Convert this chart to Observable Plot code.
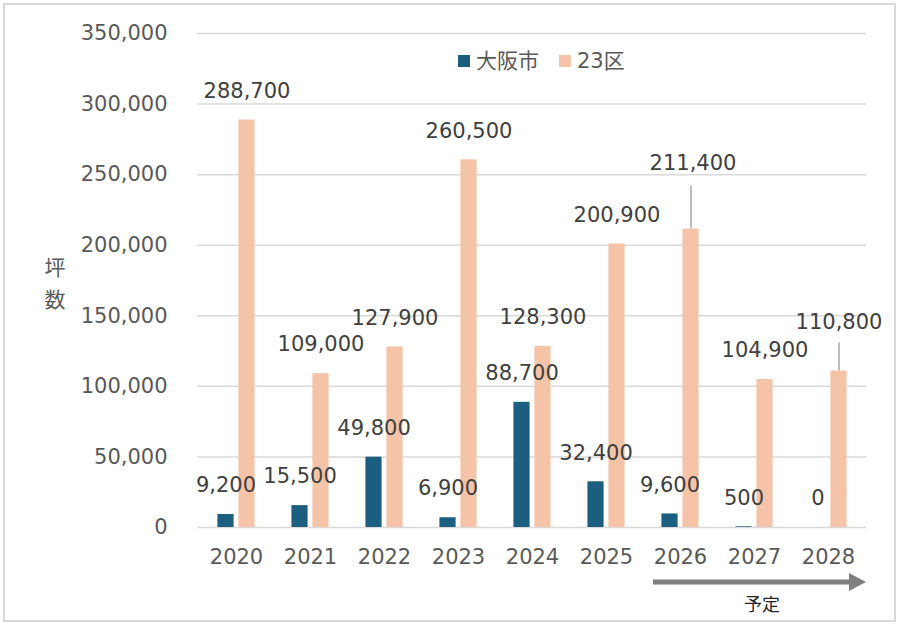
<!DOCTYPE html>
<html><head><meta charset="utf-8">
<script src="https://cdn.jsdelivr.net/npm/d3@7"></script>
<script src="https://cdn.jsdelivr.net/npm/@observablehq/plot@0.6"></script>
<style>
html,body{margin:0;padding:0;background:#fff;}
#chart{position:relative;width:900px;height:626px;}
</style>
</head><body><div id="chart"></div>
<script>
// ---- data ----
const years = ["2020","2021","2022","2023","2024","2025","2026","2027","2028"];
const osaka = [9200, 15500, 49800, 6900, 88700, 32400, 9600, 500, 0];
const ku23 = [288700, 109000, 127900, 260500, 128300, 200900, 211400, 104900, 110800];
const seriesNames = ["大阪市", "23区"];
const yTicks = [0, 50000, 100000, 150000, 200000, 250000, 300000, 350000];
const yTitle = ["坪", "数"];
const forecastLabel = "予定";
const forecastFrom = "2026";

const osakaData = years.map((year, i) => ({year, value: osaka[i]}));
const kuData = years.map((year, i) => ({year, value: ku23[i]}));

// ---- style ----
const FONT = '"DejaVu Sans", "Noto Sans CJK JP", sans-serif';
const C_OSAKA = "#1b5e7f", C_23 = "#f5c4a8";
const GRID = "#d9d9d9", TICK = "#595959", LABEL = "#404040";
const mL = 197, mR = 34, mT = 33, mB = 99;
const bw = (900 - mL - mR) / years.length;
const off = 10.5, half = 8.25;
const fmt = d3.format(",");

const plain = kuData.filter(d => d.year !== "2026" && d.year !== "2028");
const k26 = kuData.filter(d => d.year === "2026");
const k28 = kuData.filter(d => d.year === "2028");

const plot = Plot.plot({
  width: 900, height: 626,
  marginLeft: mL, marginRight: mR, marginTop: mT, marginBottom: mB,
  style: {fontFamily: FONT, fontSize: "21px", background: "#fff", color: TICK},
  x: {type: "band", domain: years, padding: 0, label: null},
  y: {domain: [0, 350000], label: null},
  marks: [
    Plot.ruleY(yTicks, {stroke: GRID, strokeWidth: 1.5}),
    Plot.axisY({ticks: yTicks, tickSize: 0, tickPadding: 30, tickFormat: fmt, fontSize: 21, fill: TICK, label: null}),
    Plot.axisX({tickSize: 0, tickPadding: 22, fontSize: 21, fill: TICK, label: null}),
    Plot.barY(osakaData, {x: "year", y: "value", fill: C_OSAKA, insetLeft: bw/2 - off - half, insetRight: bw/2 + off - half}),
    Plot.barY(kuData, {x: "year", y: "value", fill: C_23, insetLeft: bw/2 + off - half, insetRight: bw/2 - off - half}),
    Plot.text(osakaData, {x: "year", y: "value", text: d => fmt(d.value), dx: -off, dy: -29, fill: LABEL, fontSize: 21}),
    Plot.text(plain, {x: "year", y: "value", text: d => fmt(d.value), dx: off, dy: -29, fill: LABEL, fontSize: 21}),
    Plot.text(k26, {x: "year", y: "value", text: d => fmt(d.value), dx: off + 2, dy: -65.6, fill: LABEL, fontSize: 21}),
    Plot.text(k28, {x: "year", y: "value", text: d => fmt(d.value), dx: off, dy: -48.6, fill: LABEL, fontSize: 21}),
    Plot.ruleX(k26, {x: "year", y1: "value", y2: "value", dx: off, insetBottom: 43, stroke: "#a6a6a6", strokeWidth: 1.5}),
    Plot.ruleX(k28, {x: "year", y1: "value", y2: "value", dx: off, insetBottom: 28, stroke: "#a6a6a6", strokeWidth: 1.5})
  ]
});

const svg = d3.select(plot);
const xs = plot.scale("x");
// border
svg.append("rect").attr("x", 4).attr("y", 4).attr("width", 891).attr("height", 617)
  .attr("fill", "none").attr("stroke", GRID).attr("stroke-width", 2);
// legend
const leg = svg.append("g").attr("font-family", FONT).attr("font-size", 21).attr("fill", TICK)
  .attr("text-anchor", "start");
[[458, C_OSAKA, seriesNames[0]], [559, C_23, seriesNames[1]]].forEach(([x, c, t]) => {
  leg.append("rect").attr("x", x).attr("y", 55).attr("width", 12).attr("height", 12).attr("fill", c);
  leg.append("text").attr("x", x + 18).attr("y", 61).attr("text-anchor", "start")
    .attr("dominant-baseline", "central").text(t);
});
// y title
yTitle.forEach((ch, i) => {
  svg.append("text").attr("x", 55).attr("y", 268 + i * 32).attr("text-anchor", "middle")
    .attr("dominant-baseline", "central").attr("font-family", FONT).attr("font-size", 21)
    .attr("fill", TICK).text(ch);
});
// forecast arrow
const ax1 = xs.apply(forecastFrom) + 10;
const ax2 = 900 - mR;
svg.append("line").attr("x1", ax1).attr("x2", ax2 - 16).attr("y1", 582).attr("y2", 582)
  .attr("stroke", "#7f7f7f").attr("stroke-width", 5);
svg.append("polygon").attr("points", `${ax2-17},573 ${ax2},582 ${ax2-17},591`).attr("fill", "#7f7f7f");
svg.append("text").attr("x", 762).attr("y", 604).attr("text-anchor", "middle")
  .attr("dominant-baseline", "central").attr("font-family", FONT).attr("font-size", 18)
  .attr("fill", "#262626").text(forecastLabel);

document.getElementById("chart").appendChild(plot);
</script>
</body></html>
